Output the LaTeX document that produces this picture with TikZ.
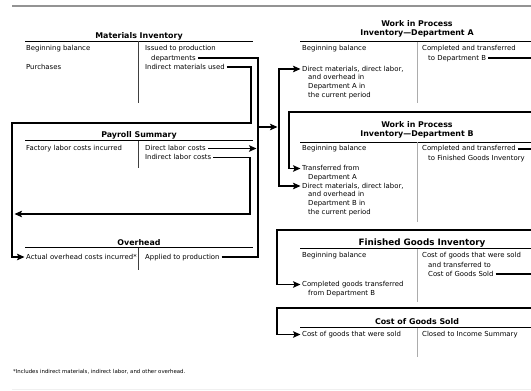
\documentclass[tikz,border=0pt]{standalone}
\usepackage{fontspec}
\setmainfont{DejaVu Sans}
\usetikzlibrary{arrows.meta, positioning}

\begin{document}
\begin{tikzpicture}[x=1pt, y=-1pt,
    entry/.style={anchor=base west, inner sep=0pt, text height=5pt, text depth=1pt, font=\fontsize{6.9}{8}\selectfont},
    acctname/.style={anchor=base, inner sep=0pt, font=\bfseries\fontsize{7.9}{9}\selectfont},
    tline/.style={line width=0.7pt},
    tstem/.style={line width=0.9pt, black!75},
    tstemr/.style={line width=1pt, gray!65},
    flow/.style={line width=1.8pt},
    flowarr/.style={flow, -{Stealth[length=7.5pt, width=6.5pt, inset=1.5pt]}},
    note/.style={anchor=base west, inner sep=0pt, font=\fontsize{5.4}{6}\selectfont}
]
\useasboundingbox (0,0) rectangle (531,391);

% Rules
\draw[line width=2pt, gray!85] (12,6) -- (531,6);
\draw[line width=0.6pt, gray!12] (12,389) -- (531,389);

% Materials Inventory
\node[acctname] (mi_t) at (139,38) {Materials Inventory};
\draw[tline] (25,41) -- (253,41);
\draw[tstem] (138,41) -- (138,103);
\node[entry] (mi_bb) at (26,50.7) {Beginning balance};
\node[entry] (mi_pur) at (26,69.3) {Purchases};
\node[entry] (mi_iss) at (145,50.7) {Issued to production};
\node[entry] (mi_dep) at (151,60) {departments};
\node[entry] (mi_ind) at (145,69.3) {Indirect materials used};

% Payroll Summary
\node[acctname] (pr_t) at (139,137) {Payroll Summary};
\draw[tline] (25,140.5) -- (253,140.5);
\draw[tstem] (138,140.5) -- (138,168);
\node[entry] (pr_fl) at (26,150.5) {Factory labor costs incurred};
\node[entry] (pr_dl) at (145,150.5) {Direct labor costs};
\node[entry] (pr_il) at (145,159.5) {Indirect labor costs};

% Overhead
\node[acctname] (oh_t) at (139,245) {Overhead};
\draw[tline] (25,247.5) -- (253,247.5);
\draw[tstem] (138,247.5) -- (138,270);
\node[entry] (oh_act) at (26,259) {Actual overhead costs incurred*};
\node[entry] (oh_app) at (145,259) {Applied to production};

% Work in Process -- Department A
\node[acctname] (wa_t1) at (417,26.7) {Work in Process};
\node[acctname] (wa_t2) at (417,35.7) {Inventory—Department A};
\draw[tline] (300,41.7) -- (545,41.7);
\draw[tstemr] (417,41.7) -- (417,103);
\node[entry] (wa_bb) at (302,50.7) {Beginning balance};
\node[entry] (wa_ct) at (422,50.7) {Completed and transferred};
\node[entry] (wa_to) at (428,60) {to Department B};
\node[entry] (wa_dm) at (302,71) {Direct materials, direct labor,};
\node[entry] (wa_l2) at (308,79.7) {and overhead in};
\node[entry] (wa_l3) at (308,88.3) {Department A in};
\node[entry] (wa_l4) at (308,97) {the current period};

% Work in Process -- Department B
\node[acctname] (wb_t1) at (417,127) {Work in Process};
\node[acctname] (wb_t2) at (417,136) {Inventory—Department B};
\draw[tline] (300,142) -- (545,142);
\draw[tstemr] (417,142) -- (417,222);
\node[entry] (wb_bb) at (302,150.7) {Beginning balance};
\node[entry] (wb_ct) at (422,150.7) {Completed and transferred};
\node[entry] (wb_to) at (428,160) {to Finished Goods Inventory};
\node[entry] (wb_tr) at (302,170.5) {Transferred from};
\node[entry] (wb_da) at (308,179.3) {Department A};
\node[entry] (wb_dm) at (302,188) {Direct materials, direct labor,};
\node[entry] (wb_l2) at (308,196.7) {and overhead in};
\node[entry] (wb_l3) at (308,205.3) {Department B in};
\node[entry] (wb_l4) at (308,214) {the current period};

% Finished Goods Inventory
\node[acctname, font=\bfseries\fontsize{8.8}{10}\selectfont] (fg_t) at (422,245.5) {Finished Goods Inventory};
\draw[tline] (300,248.5) -- (545,248.5);
\draw[tstemr] (417,248.5) -- (417,302);
\node[entry] (fg_bb) at (302,257.5) {Beginning balance};
\node[entry] (fg_cs) at (422,257.5) {Cost of goods that were sold};
\node[entry] (fg_l2) at (428,267) {and transferred to};
\node[entry] (fg_to) at (428,276.3) {Cost of Goods Sold};
\node[entry] (fg_cg) at (302,286.5) {Completed goods transferred};
\node[entry] (fg_l5) at (308,295.2) {from Department B};

% Cost of Goods Sold
\node[acctname] (cg_t) at (417,324) {Cost of Goods Sold};
\draw[tline] (300,327.5) -- (545,327.5);
\draw[tstemr] (417,327.5) -- (417,357);
\node[entry] (cg_cs) at (302,336.5) {Cost of goods that were sold};
\node[entry] (cg_cl) at (422,336.5) {Closed to Income Summary};

% Footnote
\node[note] (fn) at (13,373) {*Includes indirect materials, indirect labor, and other overhead.};

% Flow points
\coordinate (bus) at (258,127);
\coordinate (split) at (279,127);
\coordinate (loopA) at (251,123);
\coordinate (loopB) at (12,123);
\coordinate (loopC) at (250,214);
\coordinate (loopD) at (14.5,214);
\coordinate (offA) at (545,112);
\coordinate (wbIn) at (289,112);
\coordinate (offB) at (545,230);
\coordinate (fgIn) at (277,230);
\coordinate (offC) at (545,308);
\coordinate (cgIn) at (277,308);

% Cost flows, left side
\draw[flow] ([xshift=2pt]mi_dep.east) -| (bus);
\draw[flow] ([xshift=2pt]oh_app.east) -| (bus);
\draw[flowarr] ([xshift=2pt]pr_dl.east) -- ([xshift=-1.5pt]pr_dl.east -| bus);
\draw[flowarr] ([xshift=2pt]mi_ind.east) -| (loopA) -- (loopB) |- ([xshift=-1.5pt]oh_act.west);
\draw[flowarr] ([xshift=2pt]pr_il.east) -| (loopC) -- (loopD);
\draw[flowarr] (bus) -- ([xshift=-1.5pt]split);

% Cost flows, right side
\draw[flowarr] (split) |- ([xshift=-1.5pt]wa_dm.west);
\draw[flowarr] (split) |- ([xshift=-1.5pt]wb_dm.west);
\draw[flowarr] ([xshift=2pt]wa_to.east) -| (offA) -- (wbIn) |- ([xshift=-1.5pt]wb_tr.west);
\draw[flowarr] ([xshift=2pt]wb_ct.east) -| (offB) -- (fgIn) |- ([xshift=-1.5pt]fg_cg.west);
\draw[flowarr] ([xshift=2pt]fg_to.east) -| (offC) -- (cgIn) |- ([xshift=-1.5pt]cg_cs.west);

\end{tikzpicture}
\end{document}
